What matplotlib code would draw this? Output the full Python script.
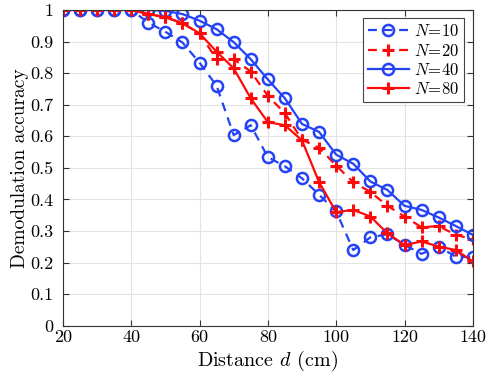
import matplotlib
matplotlib.use('Agg')
from matplotlib import pyplot as plt

plt.rcParams['font.family'] = 'serif'
plt.rcParams['font.serif'] = ['cmr10', 'DejaVu Serif']
plt.rcParams['mathtext.fontset'] = 'cm'
plt.rcParams['axes.unicode_minus'] = False

# distance d (cm)
distance = [20, 25, 30, 35, 40, 45, 50, 55, 60, 65, 70, 75, 80,
            85, 90, 95, 100, 105, 110, 115, 120, 125, 130, 135, 140]

acc_n10 = [1, 1, 1, 1, 1, 0.96, 0.931, 0.897, 0.833, 0.76, 0.604, 0.635, 0.534,
           0.505, 0.467, 0.415, 0.362, 0.24, 0.28, 0.29, 0.256, 0.228, 0.251, 0.219, 0.217]
acc_n20 = [1, 1, 1, 1, 1, 0.987, 0.977, 0.958, 0.926, 0.844, 0.844, 0.805, 0.728,
           0.673, 0.589, 0.564, 0.507, 0.455, 0.424, 0.38, 0.346, 0.312, 0.316, 0.288, 0.274]
acc_n40 = [1, 1, 1, 1, 1, 1.0, 0.997, 0.987, 0.966, 0.939, 0.898, 0.844, 0.78,
           0.72, 0.639, 0.614, 0.542, 0.513, 0.457, 0.43, 0.38, 0.367, 0.343, 0.316, 0.288]
acc_n80 = [1, 1, 1, 1, 1, 0.987, 0.977, 0.958, 0.926, 0.868, 0.815, 0.72, 0.645,
           0.635, 0.587, 0.455, 0.36, 0.367, 0.346, 0.293, 0.256, 0.267, 0.251, 0.24, 0.204]

x_ticks = [20, 40, 60, 80, 100, 120, 140]
y_ticks = [0, 0.1, 0.2, 0.3, 0.4, 0.5, 0.6, 0.7, 0.8, 0.9, 1]
y_labels = ['0', '0.1', '0.2', '0.3', '0.4', '0.5', '0.6', '0.7', '0.8', '0.9', '1']

blue = '#2443f5'
red = '#ff0a0a'
dash = (4, 3)

fig = plt.figure(figsize=(4.91, 3.82), dpi=100)
ax = fig.add_axes([0.128, 0.147, 0.835, 0.827])

ax.plot(distance, acc_n10, color=blue, lw=1.6, ls='--', dashes=dash, marker='o', ms=8,
        mfc='none', mew=1.8, label='$N\\!=\\!10$')
ax.plot(distance, acc_n20, color=red, lw=1.6, ls='--', dashes=dash, marker='+', ms=9,
        mew=2.2, label='$N\\!=\\!20$')
ax.plot(distance, acc_n40, color=blue, lw=1.6, marker='o', ms=8, mfc='none', mew=1.8,
        label='$N\\!=\\!40$')
ax.plot(distance, acc_n80, color=red, lw=1.6, marker='+', ms=9, mew=2.2,
        label='$N\\!=\\!80$')

ax.set_xlim(20, 140)
ax.set_ylim(0, 1)
ax.set_xticks(x_ticks)
ax.set_xticklabels([str(t) for t in x_ticks])
ax.set_yticks(y_ticks)
ax.set_yticklabels(y_labels)
ax.tick_params(direction='in', top=True, right=True, labelsize=13, length=4,
               color='#333333')
ax.tick_params(axis='x', pad=2.5)
ax.tick_params(axis='y', pad=7)
ax.grid(True, color='#e3e3e3', lw=0.8)
ax.set_axisbelow(True)
for s in ax.spines.values():
    s.set_color('#333333')
    s.set_linewidth(0.8)

ax.set_xlabel('Distance $d$ (cm)', fontsize=14.5, labelpad=3)
ax.set_ylabel('Demodulation accuracy', fontsize=14, labelpad=1)

leg = ax.legend(loc='upper right', fontsize=12, fancybox=False, framealpha=1,
                edgecolor='#444444', handlelength=2.5, handletextpad=0.3,
                borderpad=0.3, labelspacing=0.2, borderaxespad=0.5)
leg.get_frame().set_linewidth(0.8)

fig.savefig('out.png', dpi=100)
